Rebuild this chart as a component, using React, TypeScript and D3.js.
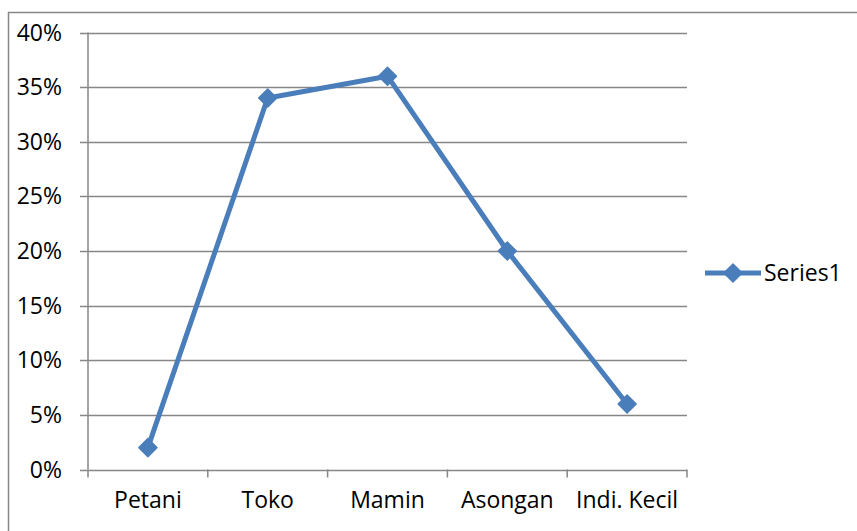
import React from "react";
import * as d3 from "d3";

const categories = ["Petani", "Toko", "Mamin", "Asongan", "Indi. Kecil"];
const values = [0.02, 0.34, 0.36, 0.2, 0.06];
const yTicks = [0, 0.05, 0.1, 0.15, 0.2, 0.25, 0.3, 0.35, 0.4];
const seriesName = "Series1";

const W = 857;
const H = 531;
const left = 88;
const right = 687;
const top = 32.5;
const bottom = 469.5;
const color = "#4A7EBB";
const grid = "#868686";
const font = "'Open Sans', sans-serif";
const fs = 23;

export default function App() {
  const x = d3.scaleBand<string>().domain(categories).range([left, right]);
  const y = d3.scaleLinear().domain([0, 0.4]).range([bottom, top]);
  const pts = categories.map((c, i) => [x(c)! + x.bandwidth() / 2, y(values[i])] as [number, number]);
  const line = d3.line()(pts) || "";
  const diamond = (cx: number, cy: number, r: number) =>
    `M${cx},${cy - r}L${cx + r},${cy}L${cx},${cy + r}L${cx - r},${cy}Z`;
  const edges = categories.map((c) => x(c)!).concat([right]);
  return (
    <svg
      width={W}
      height={H}
      style={{ position: "absolute", left: 0, top: 0, background: "#fff" }}
    >
      <rect x={8.5} y={12.5} width={860} height={600} fill="#fff" stroke={grid} strokeWidth={1.5} />
      {yTicks.map((t) => (
        <line key={t} x1={left - 8} x2={right} y1={Math.round(y(t)) + 0.5} y2={Math.round(y(t)) + 0.5} stroke={grid} strokeWidth={1.5} />
      ))}
      <line x1={left} x2={left} y1={top} y2={bottom} stroke={grid} strokeWidth={1.5} />
      {edges.map((e, i) => (
        <line key={i} x1={e} x2={e} y1={bottom} y2={bottom + 8} stroke={grid} strokeWidth={1.5} />
      ))}
      {yTicks.map((t) => (
        <text key={t} x={62} y={y(t)} dy="0.35em" textAnchor="end" fontFamily={font} fontSize={fs} fill="#000">
          {d3.format(".0%")(t)}
        </text>
      ))}
      {categories.map((c) => (
        <text key={c} x={x(c)! + x.bandwidth() / 2} y={508} textAnchor="middle" fontFamily={font} fontSize={fs} fill="#000">
          {c}
        </text>
      ))}
      <path d={line} fill="none" stroke={color} strokeWidth={5} strokeLinejoin="round" />
      {pts.map((p, i) => (
        <path key={i} d={diamond(p[0], p[1], 9)} fill={color} stroke={color} strokeWidth={1.5} strokeLinejoin="round" />
      ))}
      <line x1={705} x2={761} y1={273} y2={273} stroke={color} strokeWidth={5} />
      <path d={diamond(733, 273, 9)} fill={color} stroke={color} strokeWidth={1.5} strokeLinejoin="round" />
      <text x={764} y={273} dy="0.35em" fontFamily={font} fontSize={fs} fill="#000">
        {seriesName}
      </text>
    </svg>
  );
}
